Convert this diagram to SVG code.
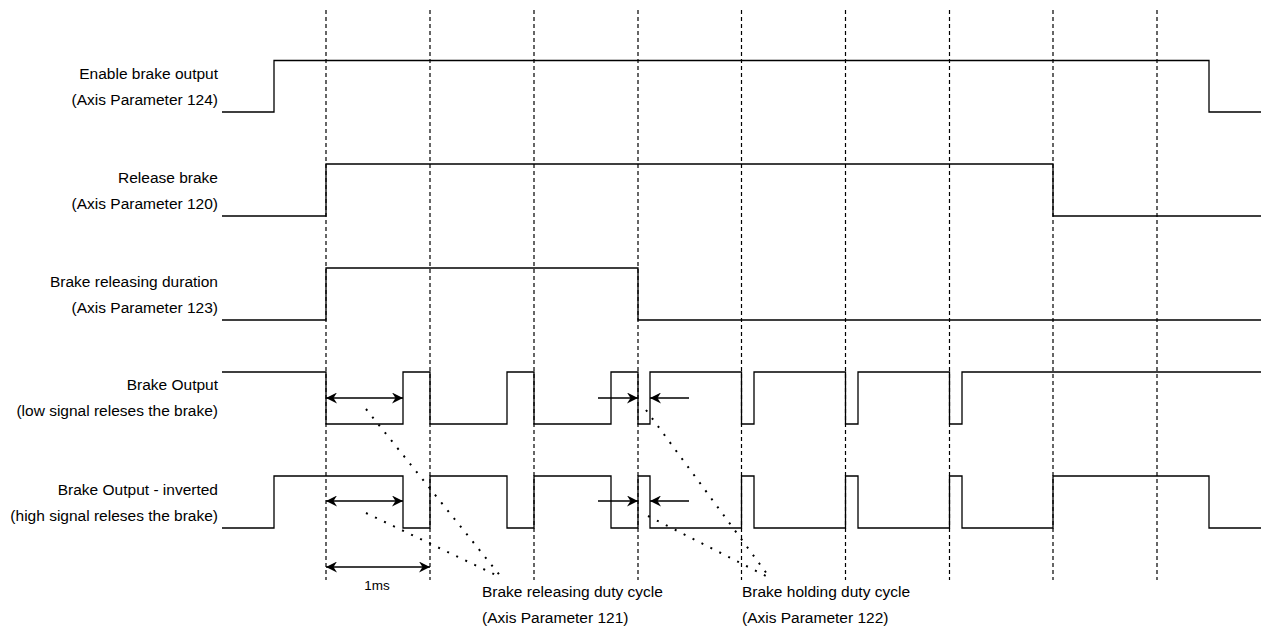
<svg xmlns="http://www.w3.org/2000/svg" width="1261" height="633" viewBox="0 0 1261 633">
  <style>
    .sig { fill: none; stroke: #000; stroke-width: 1.3; stroke-linejoin: miter; }
    .grid { stroke: #000; stroke-width: 1.2; stroke-dasharray: 4 3; }
    .arr { stroke: #000; stroke-width: 1.3; fill: none; }
    .dot { stroke: #000; stroke-width: 2; stroke-dasharray: 2 8; fill: none; }
    .lbl { font-family: "Liberation Sans", Arial, sans-serif; font-size: 15.5px; fill: #000; }
    .r { text-anchor: end; }
    .small { font-family: "Liberation Sans", Arial, sans-serif; font-size: 13.5px; fill: #000; text-anchor: middle; }
  </style>
  <defs>
    <marker id="ah" markerUnits="userSpaceOnUse" markerWidth="12" markerHeight="11" refX="11" refY="5.5" orient="auto-start-reverse">
      <path d="M0,0 L11,5.5 L0,11 L3.5,5.5 Z" fill="#000"/>
    </marker>
  </defs>
  <rect width="1261" height="633" fill="#fff"/>

  <g id="grid">
    <line class="grid" x1="326" y1="10" x2="326" y2="580"/>
    <line class="grid" x1="430" y1="10" x2="430" y2="580"/>
    <line class="grid" x1="534" y1="10" x2="534" y2="580"/>
    <line class="grid" x1="638" y1="10" x2="638" y2="580"/>
    <line class="grid" x1="741.5" y1="10" x2="741.5" y2="580"/>
    <line class="grid" x1="845.5" y1="10" x2="845.5" y2="580"/>
    <line class="grid" x1="949.5" y1="10" x2="949.5" y2="580"/>
    <line class="grid" x1="1053" y1="10" x2="1053" y2="580"/>
    <line class="grid" x1="1157" y1="10" x2="1157" y2="580"/>
  </g>

  <g id="enable-brake-output">
    <text class="lbl r" x="218" y="79">Enable brake output</text>
    <text class="lbl r" x="218" y="105">(Axis Parameter 124)</text>
    <path class="sig" d="M222,112 H274 V60.5 H1209 V112 H1261"/>
  </g>

  <g id="release-brake">
    <text class="lbl r" x="218" y="183">Release brake</text>
    <text class="lbl r" x="218" y="209">(Axis Parameter 120)</text>
    <path class="sig" d="M222,216 H326 V164 H1053 V216 H1261"/>
  </g>

  <g id="brake-releasing-duration">
    <text class="lbl r" x="218" y="287">Brake releasing duration</text>
    <text class="lbl r" x="218" y="313">(Axis Parameter 123)</text>
    <path class="sig" d="M222,320 H326 V268 H638 V320 H1261"/>
  </g>

  <g id="brake-output">
    <text class="lbl r" x="218" y="390">Brake Output</text>
    <text class="lbl r" x="218" y="416">(low signal releses the brake)</text>
    <path class="sig" d="M222,372 H326 V424 H403 V372 H430 V424 H507 V372 H534 V424 H611 V372 H638 V424 H650 V372 H741.5 V424 H754 V372 H845.5 V424 H858 V372 H949.5 V424 H962 V372 H1261"/>
  </g>

  <g id="brake-output-inverted">
    <text class="lbl r" x="218" y="495">Brake Output - inverted</text>
    <text class="lbl r" x="218" y="521">(high signal releses the brake)</text>
    <path class="sig" d="M222,528 H274 V476 H403 V528 H430 V476 H507 V528 H534 V476 H611 V528 H638 V476 H650 V528 H741.5 V476 H754 V528 H845.5 V476 H858 V528 H949.5 V476 H962 V528 H1053 V476 H1209 V528 H1261"/>
  </g>

  <g id="releasing-label">
    <text class="lbl" x="482" y="597">Brake releasing duty cycle</text>
    <text class="lbl" x="482" y="623">(Axis Parameter 121)</text>
  </g>

  <g id="holding-label">
    <text class="lbl" x="742" y="597">Brake holding duty cycle</text>
    <text class="lbl" x="742" y="623">(Axis Parameter 122)</text>
  </g>

  <g id="time-label">
    <text class="small" x="377" y="590">1ms</text>
  </g>

  <g id="connectors">
    <line class="arr" x1="326" y1="398" x2="403" y2="398" marker-start="url(#ah)" marker-end="url(#ah)"/>
    <line class="arr" x1="598" y1="398" x2="638" y2="398" marker-end="url(#ah)"/>
    <line class="arr" x1="689" y1="398" x2="650" y2="398" marker-end="url(#ah)"/>
    <line class="arr" x1="326" y1="501" x2="403" y2="501" marker-start="url(#ah)" marker-end="url(#ah)"/>
    <line class="arr" x1="598" y1="501" x2="638" y2="501" marker-end="url(#ah)"/>
    <line class="arr" x1="689" y1="501" x2="650" y2="501" marker-end="url(#ah)"/>
    <line class="arr" x1="326" y1="567" x2="430" y2="567" marker-start="url(#ah)" marker-end="url(#ah)"/>
    <line class="dot" x1="366" y1="409" x2="502" y2="578"/>
    <line class="dot" x1="366" y1="513" x2="500" y2="577"/>
    <line class="dot" x1="646" y1="410" x2="770" y2="578"/>
    <line class="dot" x1="648" y1="516" x2="768" y2="577"/>
  </g>
</svg>
